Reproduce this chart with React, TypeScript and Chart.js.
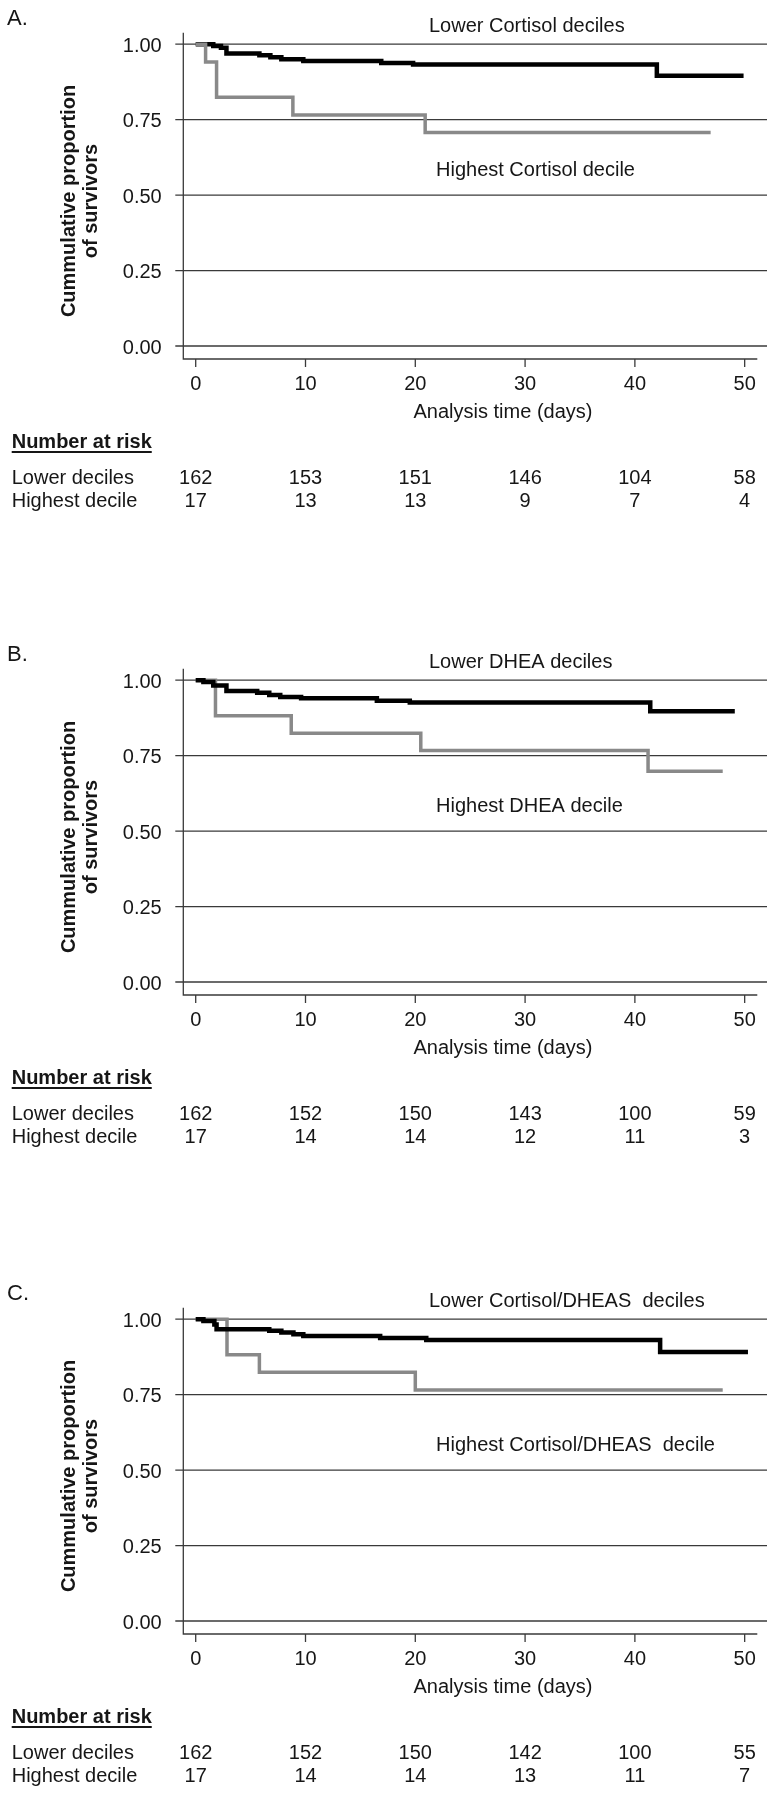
import React, { useEffect, useRef } from "react";
import { Chart, registerables } from "chart.js";

Chart.register(...registerables);

const FONT = '"Liberation Sans", Arial, Helvetica, sans-serif';

// ---------- shared axis data ----------
const dayTicks = [0, 10, 20, 30, 40, 50];
const survivalTicks = [0, 0.25, 0.5, 0.75, 1];
const survivalTickLabels = ["0.00", "0.25", "0.50", "0.75", "1.00"];
const riskRowLabels = ["Lower deciles", "Highest decile"];
const xAxisTitle = "Analysis time (days)";
const yAxisTitle = ["Cummulative proportion", "of survivors"];
const riskTitle = "Number at risk";

// ---------- Panel A: Cortisol ----------
const cortisolLowerTimes = [0, 1.6, 2.3, 2.8, 5.8, 6.8, 7.8, 9.8, 16.9, 19.8, 42.0, 49.9];
const cortisolLowerSurv = [1, 0.994, 0.988, 0.969, 0.963, 0.957, 0.95, 0.944, 0.938, 0.933, 0.895, 0.895];
const cortisolHighTimes = [0, 0.9, 1.9, 8.85, 20.9, 46.9];
const cortisolHighSurv = [1, 0.941, 0.824, 0.765, 0.707, 0.707];
const cortisolRiskLower = [162, 153, 151, 146, 104, 58];
const cortisolRiskHigh = [17, 13, 13, 9, 7, 4];

// ---------- Panel B: DHEA ----------
const dheaLowerTimes = [0, 0.7, 1.6, 2.8, 5.6, 6.7, 7.7, 9.6, 16.5, 19.5, 41.4, 49.1];
const dheaLowerSurv = [1, 0.994, 0.982, 0.964, 0.958, 0.951, 0.944, 0.94, 0.932, 0.926, 0.897, 0.897];
const dheaHighTimes = [0, 1.8, 8.7, 20.5, 41.2, 48.0];
const dheaHighSurv = [1, 0.882, 0.824, 0.767, 0.698, 0.698];
const dheaRiskLower = [162, 152, 150, 143, 100, 59];
const dheaRiskHigh = [17, 14, 14, 12, 11, 3];

// ---------- Panel C: Cortisol/DHEAS ----------
const ratioLowerTimes = [0, 0.7, 1.7, 1.9, 6.7, 7.8, 8.9, 9.8, 16.8, 21.0, 42.3, 50.3];
const ratioLowerSurv = [1, 0.994, 0.982, 0.967, 0.962, 0.956, 0.95, 0.944, 0.938, 0.931, 0.891, 0.891];
const ratioHighTimes = [0, 2.85, 5.8, 20.0, 48.0];
const ratioHighSurv = [1, 0.882, 0.824, 0.765, 0.765];
const ratioRiskLower = [162, 152, 150, 142, 100, 55];
const ratioRiskHigh = [17, 14, 14, 13, 11, 7];

type PanelDef = {
  letter: string;
  upperLabel: string;
  lowerLabel: string;
  lowerTimes: number[];
  lowerSurv: number[];
  highTimes: number[];
  highSurv: number[];
  riskLower: number[];
  riskHigh: number[];
  top: number;
  height: number;
  highOnTop: boolean;
};

const panels: PanelDef[] = [
  {
    letter: "A.",
    upperLabel: "Lower Cortisol deciles",
    lowerLabel: "Highest Cortisol decile",
    lowerTimes: cortisolLowerTimes,
    lowerSurv: cortisolLowerSurv,
    highTimes: cortisolHighTimes,
    highSurv: cortisolHighSurv,
    riskLower: cortisolRiskLower,
    riskHigh: cortisolRiskHigh,
    top: 0,
    height: 636,
    highOnTop: true,
  },
  {
    letter: "B.",
    upperLabel: "Lower DHEA deciles",
    lowerLabel: "Highest DHEA decile",
    lowerTimes: dheaLowerTimes,
    lowerSurv: dheaLowerSurv,
    highTimes: dheaHighTimes,
    highSurv: dheaHighSurv,
    riskLower: dheaRiskLower,
    riskHigh: dheaRiskHigh,
    top: 636,
    height: 639,
    highOnTop: false,
  },
  {
    letter: "C.",
    upperLabel: "Lower Cortisol/DHEAS  deciles",
    lowerLabel: "Highest Cortisol/DHEAS  decile",
    lowerTimes: ratioLowerTimes,
    lowerSurv: ratioLowerSurv,
    highTimes: ratioHighTimes,
    highSurv: ratioHighSurv,
    riskLower: ratioRiskLower,
    riskHigh: ratioRiskHigh,
    top: 1275,
    height: 519,
    highOnTop: false,
  },
];

// layout (pixels, relative to each panel)
const AREA_LEFT = 183.3;
const AREA_RIGHT = 757.3;
const AREA_TOP = 32.7;
const AREA_BOTTOM = 359;
const GRID_RIGHT = 767;
const TEXT = "#161616";
const AXIS = "#3a3a3a";

function makeDecor(p: PanelDef) {
  return {
    id: "kmDecor",
    beforeDatasetsDraw(chart: any) {
      const { ctx, chartArea, scales } = chart;
      const xs = scales.x;
      const ys = scales.y;
      ctx.save();
      ctx.strokeStyle = AXIS;
      ctx.lineWidth = 1.3;
      survivalTicks.forEach((v) => {
        const y = ys.getPixelForValue(v);
        ctx.beginPath();
        ctx.moveTo(chartArea.left - 8, y);
        ctx.lineTo(GRID_RIGHT, y);
        ctx.stroke();
      });
      ctx.beginPath();
      ctx.moveTo(chartArea.left, chartArea.top);
      ctx.lineTo(chartArea.left, chartArea.bottom);
      ctx.lineTo(chartArea.right, chartArea.bottom);
      ctx.stroke();
      dayTicks.forEach((d) => {
        const x = xs.getPixelForValue(d);
        ctx.beginPath();
        ctx.moveTo(x, chartArea.bottom);
        ctx.lineTo(x, chartArea.bottom + 8);
        ctx.stroke();
      });
      ctx.restore();
    },
    afterDraw(chart: any) {
      const { ctx, chartArea, scales } = chart;
      const xs = scales.x;
      const ys = scales.y;
      const b = chartArea.bottom;
      ctx.save();
      ctx.fillStyle = TEXT;
      ctx.textBaseline = "middle";

      // y tick labels
      ctx.font = `20px ${FONT}`;
      ctx.textAlign = "right";
      survivalTicks.forEach((v, i) => {
        ctx.fillText(survivalTickLabels[i], chartArea.left - 21.6, ys.getPixelForValue(v) + 2);
      });
      // x tick labels
      ctx.textAlign = "center";
      dayTicks.forEach((d) => {
        ctx.fillText(String(d), xs.getPixelForValue(d), b + 25);
      });
      // x title
      ctx.fillText(xAxisTitle, 503, b + 53);

      // annotations
      ctx.textAlign = "left";
      ctx.fillText(p.upperLabel, 429, 26);
      ctx.fillText(p.lowerLabel, 436, 170);

      // panel letter
      ctx.font = `22px ${FONT}`;
      ctx.fillText(p.letter, 7, 19);

      // risk table
      ctx.font = `bold 20px ${FONT}`;
      ctx.textAlign = "left";
      ctx.fillText(riskTitle, 11.7, b + 83);
      const w = ctx.measureText(riskTitle).width;
      ctx.fillRect(11.7, b + 92, w, 2);

      ctx.font = `20px ${FONT}`;
      ctx.fillText(riskRowLabels[0], 11.7, b + 119);
      ctx.fillText(riskRowLabels[1], 11.7, b + 142);
      ctx.textAlign = "center";
      dayTicks.forEach((d, i) => {
        const x = xs.getPixelForValue(d);
        ctx.fillText(String(p.riskLower[i]), x, b + 119);
        ctx.fillText(String(p.riskHigh[i]), x, b + 142);
      });

      // y axis title (rotated)
      ctx.font = `bold 20px ${FONT}`;
      ctx.textAlign = "center";
      ctx.save();
      ctx.translate(69, 201);
      ctx.rotate(-Math.PI / 2);
      ctx.fillText(yAxisTitle[0], 0, 0);
      ctx.restore();
      ctx.save();
      ctx.translate(91, 201);
      ctx.rotate(-Math.PI / 2);
      ctx.fillText(yAxisTitle[1], 0, 0);
      ctx.restore();

      ctx.restore();
    },
  };
}

function KMPanel({ p }: { p: PanelDef }) {
  const ref = useRef<HTMLCanvasElement | null>(null);
  useEffect(() => {
    if (!ref.current) return;
    const lowerData = p.lowerTimes.map((t, i) => ({ x: t, y: p.lowerSurv[i] }));
    const highData = p.highTimes.map((t, i) => ({ x: t, y: p.highSurv[i] }));
    const lowerDs = {
      label: p.upperLabel,
      data: lowerData,
      borderColor: "#000000",
      borderWidth: 4.5,
      stepped: "before" as const,
      pointRadius: 0,
      fill: false,
      borderCapStyle: "butt" as const,
      borderJoinStyle: "miter" as const,
      clip: false as any,
    };
    const highDs = {
      label: p.lowerLabel,
      data: highData,
      borderColor: "#898989",
      borderWidth: 3.5,
      stepped: "before" as const,
      pointRadius: 0,
      fill: false,
      borderCapStyle: "butt" as const,
      borderJoinStyle: "miter" as const,
      clip: false as any,
    };
    // Chart.js draws dataset 0 last (on top)
    const datasets = p.highOnTop ? [highDs, lowerDs] : [lowerDs, highDs];
    const chart = new Chart(ref.current, {
      type: "line",
      data: { datasets },
      options: {
        responsive: false,
        animation: false,
        events: [],
        layout: {
          padding: {
            left: AREA_LEFT,
            right: 769 - AREA_RIGHT,
            top: AREA_TOP,
            bottom: p.height - AREA_BOTTOM,
          },
        },
        plugins: {
          legend: { display: false },
          tooltip: { enabled: false },
          title: { display: false },
        },
        scales: {
          x: { type: "linear", min: -1.13, max: 51.15, display: false },
          y: { type: "linear", min: -0.043, max: 1.038, display: false },
        },
      },
      plugins: [makeDecor(p)],
    });
    return () => chart.destroy();
  }, [p]);
  return (
    <canvas
      ref={ref}
      width={769}
      height={p.height}
      style={{ position: "absolute", left: 0, top: p.top, width: 769, height: p.height, display: "block" }}
    />
  );
}

export default function App() {
  return (
    <div
      style={{
        position: "absolute",
        left: 0,
        top: 0,
        width: 769,
        height: 1794,
        overflow: "hidden",
        background: "#ffffff",
      }}
    >
      {panels.map((p) => (
        <KMPanel key={p.letter} p={p} />
      ))}
    </div>
  );
}
